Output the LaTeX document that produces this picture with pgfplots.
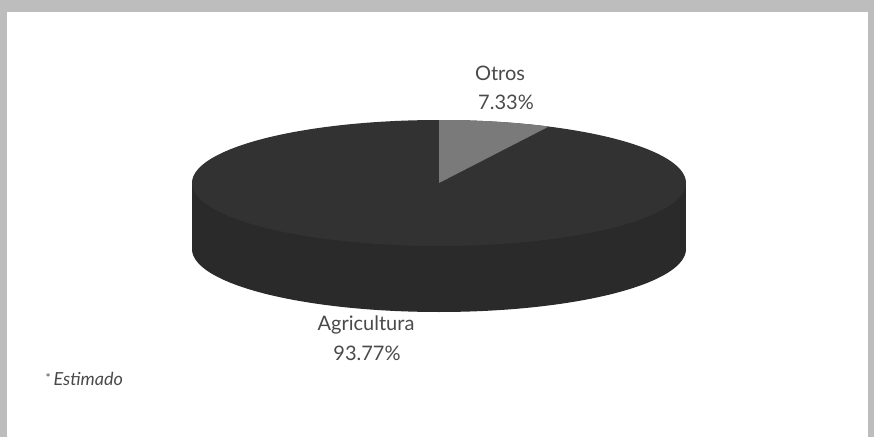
\documentclass[border=0pt]{standalone}
\usepackage{pgfplots}
\usepackage{pgfplotstable}
\usepackage{fontspec}
\setmainfont{Lato}
\pgfplotsset{compat=1.18}
\definecolor{frame}{HTML}{BDBDBD}
\definecolor{topdark}{HTML}{323232}
\definecolor{sidedark}{HTML}{2A2A2A}
\definecolor{otros}{HTML}{7A7A7A}
\definecolor{txt}{HTML}{4A4A4A}

\pgfplotstableread{
label value
Otros 7.33
Agricultura 93.77
}\piedata

\begin{document}
\begin{tikzpicture}
\pgfplotstablegetelem{0}{value}\of\piedata
\pgfmathsetmacro{\otrosdeg}{\pgfplotsretval*3.6}
\pgfmathsetmacro{\aStart}{90-\otrosdeg}
\begin{axis}[width=874pt,height=437pt,scale only axis,hide axis,
  xmin=0,xmax=874,ymin=0,ymax=437,clip=false]
% background and frame
\addplot[fill=frame,draw=none] coordinates {(0,0)(874,0)(874,437)(0,437)} -- cycle;
\addplot[fill=white,draw=none] coordinates {(7,0)(868,0)(868,425)(7,425)} -- cycle;
% side of the pie
\addplot[fill=sidedark,draw=none,domain=0:360,samples=181] ({439+247*cos(x)},{188+63*sin(x)}) -- cycle;
\addplot[fill=sidedark,draw=none] coordinates {(192,188)(686,188)(686,254)(192,254)} -- cycle;
% top of the pie
\addplot[fill=topdark,draw=none,domain=0:360,samples=181] ({439+247*cos(x)},{254+63*sin(x)}) -- cycle;
\addplot[fill=otros,draw=none,domain=\aStart:90,samples=40] ({439+247*cos(x)},{254+63*sin(x)}) -- (axis cs:439,254) -- cycle;
% labels
\node[txt,font=\fontsize{20}{24}\selectfont] at (axis cs:500,364) {Otros};
\node[txt,font=\fontsize{20}{24}\selectfont] at (axis cs:506,335) {7.33\%};
\node[txt,font=\fontsize{20}{24}\selectfont] at (axis cs:366,112) {Agricultura};
\node[txt,font=\fontsize{20}{24}\selectfont] at (axis cs:367,84) {93.77\%};
\node[txt,font=\fontsize{18}{20}\selectfont,anchor=west] at (axis cs:42,58) {\raisebox{3pt}{\fontsize{12}{14}\selectfont*}\,\textit{Estimado}};
\end{axis}
\end{tikzpicture}
\end{document}
